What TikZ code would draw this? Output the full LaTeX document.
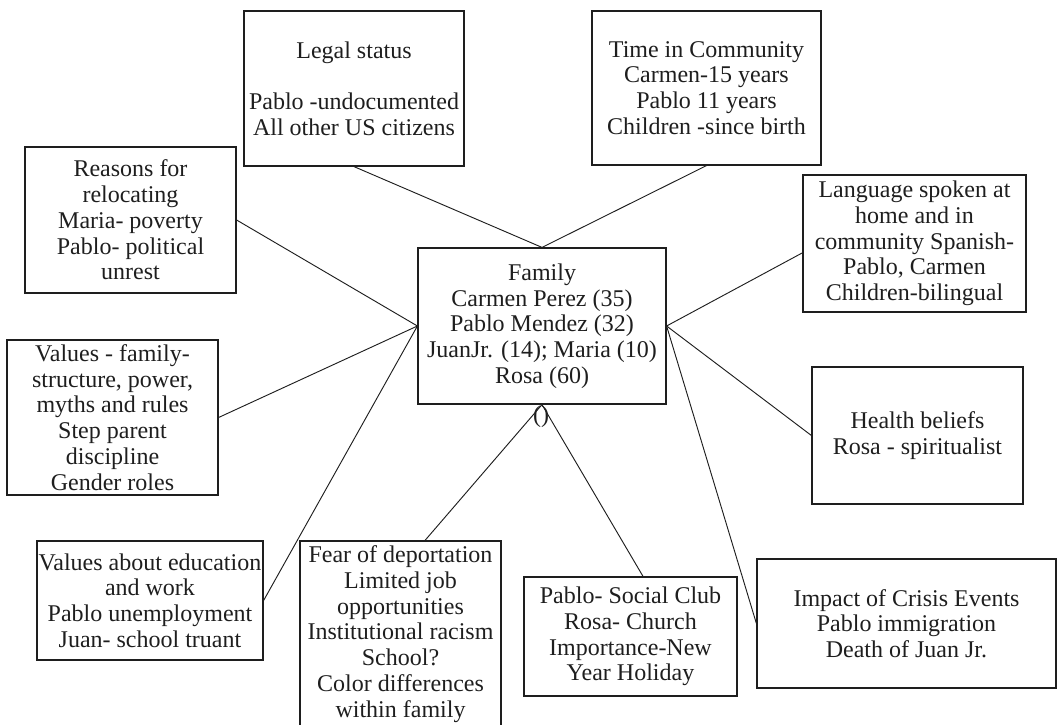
\documentclass[tikz,border=0pt]{standalone}
\usepackage{fontspec}
\setmainfont{Liberation Serif}
\begin{document}
\begin{tikzpicture}[x=0.75pt,y=-0.75pt,
  box/.style={draw=ink, line width=0.9pt, align=center, inner sep=0pt,
    font=\fontsize{18}{19.3}\selectfont, text=ink},
  link/.style={draw=ink, line width=0.7pt}]
\definecolor{ink}{HTML}{1E1E1E}
\useasboundingbox (0,0) rectangle (1058,725);
\clip (0,0) rectangle (1058,725);

% central family node
\node[box, minimum width=186pt, minimum height=117pt] (family) at (542,326)
  {Family\\Carmen Perez (35)\\Pablo Mendez (32)\\JuanJr. (14); Maria (10)\\Rosa (60)};

% surrounding factor nodes
\node[box, minimum width=165pt, minimum height=116.25pt] (legal) at (354,88.5)
  {Legal status\\[19.3pt]Pablo -undocumented\\All other US citizens};
\node[box, minimum width=171.75pt, minimum height=115.5pt] (time) at (706.5,88)
  {Time in Community\\Carmen-15 years\\Pablo 11 years\\Children -since birth};
\node[box, minimum width=158.25pt, minimum height=109.5pt] (reasons) at (130.5,220)
  {Reasons for\\relocating\\Maria- poverty\\Pablo- political\\unrest};
\node[box, minimum width=167.25pt, minimum height=102.75pt] (language) at (914.5,243.5)
  {Language spoken at\\home and in\\community Spanish-\\Pablo, Carmen\\Children-bilingual};
\node[box, minimum width=158.25pt, minimum height=116.25pt] (valfam) at (112.5,417.5)
  {Values - family-\\structure, power,\\myths and rules\\Step parent\\discipline\\Gender roles};
\node[box, minimum width=158.25pt, minimum height=102.75pt] (health) at (917.5,435.5)
  {Health beliefs\\Rosa - spiritualist};
\node[box, minimum width=169.5pt, minimum height=89.25pt] (valedu) at (150,600.5)
  {Values about education\\and work\\Pablo unemployment\\Juan- school truant};
\node[box, minimum width=150.75pt, minimum height=139.5pt] (fear) at (400.5,634)
  {Fear of deportation\\Limited job\\opportunities\\Institutional racism\\School?\\Color differences\\within family};
\node[box, minimum width=159.75pt, minimum height=89.25pt] (social) at (630.5,636.5)
  {Pablo- Social Club\\Rosa- Church\\Importance-New\\Year Holiday};
\node[box, minimum width=224.25pt, minimum height=96.75pt] (impact) at (906.5,623.5)
  {Impact of Crisis Events\\Pablo immigration\\Death of Juan Jr.};

% mark under the family box
\node[font=\fontsize{18}{19.3}\selectfont, text=ink, inner sep=0pt] (paren) at (541,417) {()};

% connectors
\draw[link] (legal.south) -- (family.north);
\draw[link] (time.south) -- (family.north);
\draw[link] (reasons.east) -- (family.west);
\draw[link] (valfam.east) -- (family.west);
\draw[link] (valedu.east) -- (family.west);
\draw[link] (family.east) -- ([yshift=-7pt]language.west);
\draw[link] (family.east) -- (health.west);
\draw[link] (family.east) -- (impact.west);
\draw[link] (family.south) -- ([xshift=18.4pt]fear.north);
\draw[link] (family.south) -- ([xshift=9.4pt]social.north);
\end{tikzpicture}
\end{document}
